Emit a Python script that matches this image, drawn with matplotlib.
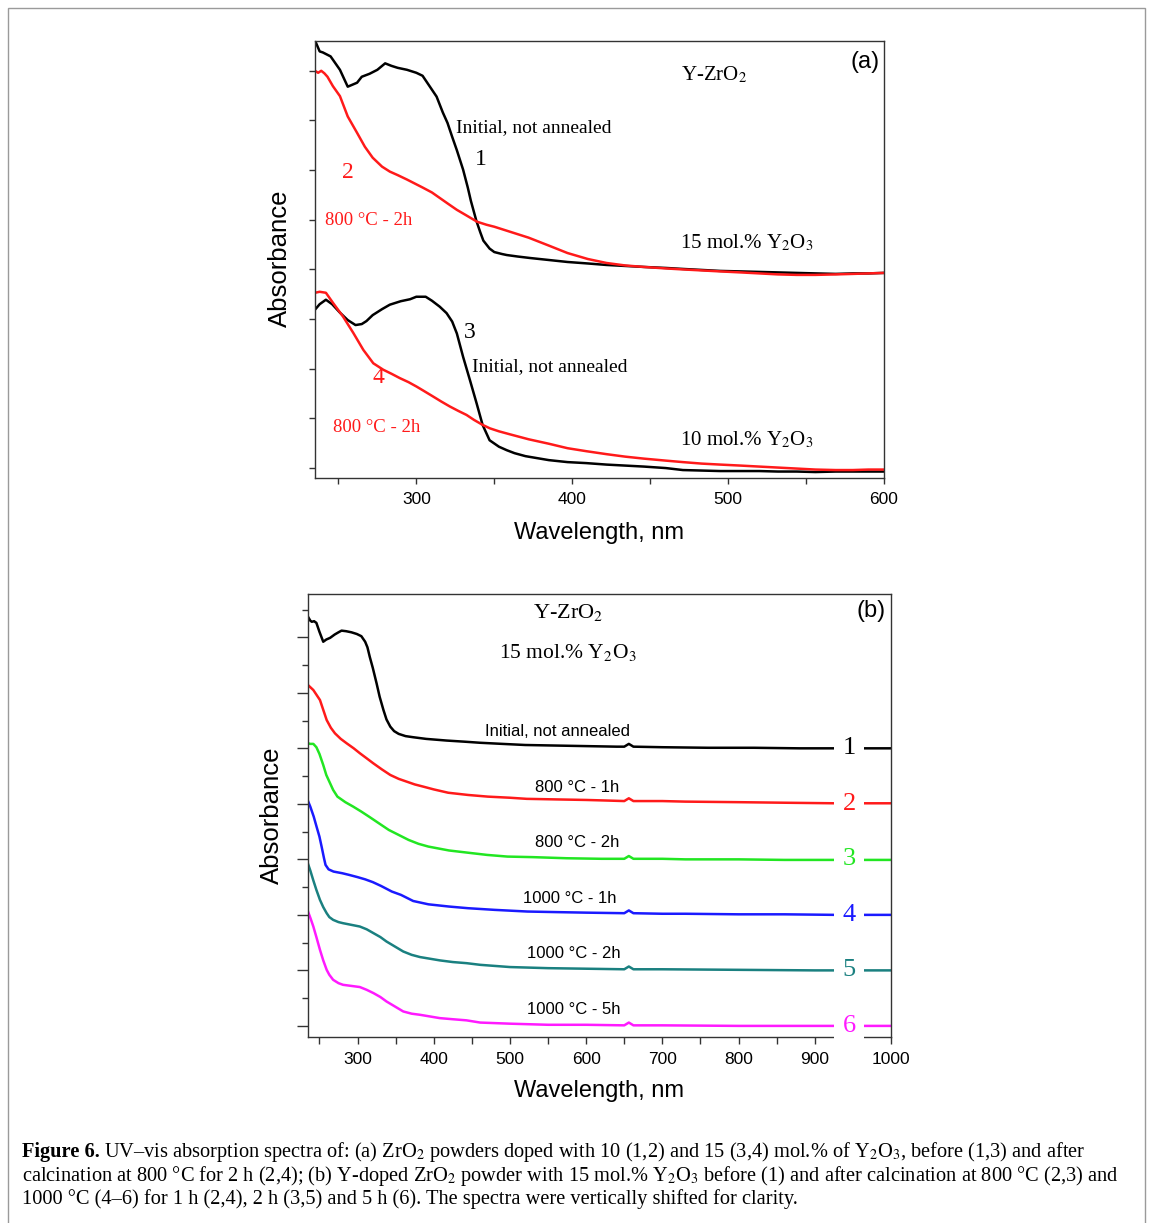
import matplotlib
matplotlib.use("Agg")
import matplotlib.pyplot as plt
from matplotlib.patches import Rectangle
from matplotlib.ticker import FixedLocator, NullFormatter

plt.rcParams['font.family'] = ['Liberation Sans', 'DejaVu Sans']
plt.rcParams['mathtext.fontset'] = 'stix'

# ---------------- Panel (a) data ----------------
wl_a1 = [235, 238, 240, 245, 251, 256, 259, 262, 265, 270, 275, 280, 284, 288, 294, 300, 304, 307, 310, 313,
         317, 320, 323, 326, 330, 333, 335, 338.5, 341, 343, 347, 350, 355, 358, 365, 373, 385, 397, 410, 422,
         434, 446, 460, 471, 483, 495, 508, 520, 532, 544, 556, 569, 580, 590, 600]
abs_a1 = [8.61, 8.39, 8.37, 8.29, 8.02, 7.68, 7.72, 7.76, 7.88, 7.94, 8.02, 8.15, 8.10, 8.06, 8.02, 7.96, 7.90, 7.76, 7.62, 7.48,
          7.16, 6.95, 6.67, 6.40, 6.01, 5.65, 5.38, 4.98, 4.75, 4.58, 4.42, 4.35, 4.31, 4.29, 4.26, 4.23, 4.19, 4.15, 4.12, 4.09,
          4.07, 4.05, 4.03, 4.01, 3.99, 3.97, 3.96, 3.95, 3.94, 3.93, 3.92, 3.91, 3.92, 3.92, 3.93]

wl_a2 = [235, 237, 239, 241, 243, 246.5, 251, 256, 262, 267, 272, 278, 283, 288, 294, 299, 304, 310, 315, 320,
         326, 332, 339, 345, 350, 360, 372, 385, 397, 410, 422, 434, 446, 460, 471, 483, 495, 508, 520, 532,
         544, 556, 569, 580, 590, 600]
abs_a2 = [8.0, 7.96, 8.0, 7.95, 7.88, 7.69, 7.49, 7.08, 6.75, 6.47, 6.25, 6.07, 5.97, 5.90, 5.81, 5.73, 5.65, 5.55, 5.44, 5.33,
          5.20, 5.09, 4.96, 4.90, 4.86, 4.76, 4.64, 4.48, 4.33, 4.21, 4.13, 4.08, 4.05, 4.02, 4.0, 3.98, 3.96, 3.94, 3.92, 3.90,
          3.89, 3.89, 3.90, 3.91, 3.92, 3.93]

wl_a3 = [235, 238, 242, 246, 251, 256, 261, 265, 268, 272, 278, 283, 290, 296, 300, 306, 310, 315, 319.4, 323,
         326, 330, 334.4, 338.7, 342.5, 347, 353, 358, 363, 370, 385, 397, 409, 422, 434, 446, 460, 471, 483, 495,
         508, 520, 532, 544, 556, 569, 580, 590, 600]
abs_a3 = [3.19, 3.30, 3.39, 3.30, 3.13, 2.98, 2.88, 2.90, 2.96, 3.08, 3.20, 3.29, 3.36, 3.40, 3.45, 3.45, 3.37, 3.25, 3.12, 2.95,
          2.71, 2.24, 1.77, 1.30, 0.87, 0.56, 0.43, 0.36, 0.30, 0.24, 0.16, 0.12, 0.10, 0.07, 0.05, 0.03, 0.0, -0.04, -0.05, -0.06,
          -0.06, -0.06, -0.07, -0.07, -0.08, -0.07, -0.07, -0.07, -0.07]

wl_a4 = [235, 238, 242, 246.7, 253, 259.6, 266, 272.4, 278.8, 284, 289.5, 295, 300.2, 305, 310.8, 316, 321.5, 327, 332.2, 337,
         342.5, 347.2, 353, 360, 372, 385, 397, 409, 422, 434, 446, 460, 471, 483, 495, 508, 520, 532, 544, 556,
         569, 580, 590, 600]
abs_a4 = [3.53, 3.55, 3.53, 3.32, 3.05, 2.72, 2.38, 2.11, 1.98, 1.90, 1.81, 1.73, 1.64, 1.55, 1.44, 1.34, 1.24, 1.15, 1.07, 0.97,
          0.87, 0.80, 0.74, 0.68, 0.58, 0.49, 0.40, 0.34, 0.28, 0.23, 0.19, 0.15, 0.12, 0.09, 0.07, 0.05, 0.03, 0.01, -0.01, -0.03,
          -0.04, -0.04, -0.03, -0.03]

# ---------------- Panel (b) data ----------------
wl_b1 = [235, 238, 240, 243, 246, 250, 255, 259, 264, 270, 275, 279, 285, 292, 299, 305, 310, 313, 316, 320,
         325, 329, 334, 338, 343, 348, 354, 363, 373, 390, 417, 440, 461, 490, 520, 560, 600, 640, 650, 656,
         662, 700, 760, 820, 880, 940, 1000]
abs_b1 = [7.37, 7.30, 7.28, 7.29, 7.26, 7.10, 6.92, 6.96, 6.99, 7.05, 7.09, 7.12, 7.11, 7.09, 7.06, 7.02, 6.92, 6.82, 6.65, 6.45,
          6.17, 5.93, 5.69, 5.52, 5.39, 5.31, 5.26, 5.22, 5.20, 5.17, 5.14, 5.12, 5.10, 5.08, 5.06, 5.05, 5.04, 5.03, 5.03, 5.08,
          5.03, 5.02, 5.01, 5.01, 5.00, 5.00, 5.00]

wl_b2 = [235, 242, 250.7, 259.5, 265, 270.4, 278, 285.8, 295, 303.2, 312, 320.7, 332, 343, 354, 364.5, 375, 386.3, 400, 419,
         445, 471, 500, 522, 560, 600, 626, 650, 656, 662, 700, 730, 800, 860, 926, 1000]
abs_b2 = [6.14, 6.05, 5.87, 5.51, 5.37, 5.27, 5.17, 5.09, 5.00, 4.91, 4.82, 4.73, 4.62, 4.52, 4.45, 4.40, 4.35, 4.31, 4.26, 4.20,
          4.16, 4.13, 4.11, 4.09, 4.08, 4.07, 4.06, 4.05, 4.10, 4.05, 4.05, 4.04, 4.03, 4.02, 4.01, 4.01]

wl_b3 = [235, 238, 242, 246, 250, 255, 259, 264, 268, 273.6, 284, 294.3, 305, 315, 328, 341, 354, 367, 380, 393,
         420, 444.8, 470, 496.7, 530, 574.5, 620, 650, 656, 662, 700, 730, 800, 860, 927, 1000]
abs_b3 = [5.09, 5.08, 5.08, 5.02, 4.90, 4.70, 4.52, 4.37, 4.25, 4.13, 4.03, 3.95, 3.86, 3.77, 3.65, 3.53, 3.44, 3.35, 3.28, 3.23,
          3.16, 3.12, 3.08, 3.05, 3.04, 3.02, 3.01, 3.01, 3.06, 3.01, 3.01, 3.00, 3.00, 2.99, 2.99, 2.99]

wl_b4 = [235, 238, 242.5, 246, 250, 253, 256, 258, 262, 268.5, 280, 289, 300, 310, 320, 331, 345, 357, 373, 393,
         420, 445, 480, 523, 560, 600, 650, 656, 662, 700, 730, 800, 860, 927, 1000]
abs_b4 = [4.05, 3.95, 3.77, 3.60, 3.41, 3.22, 3.02, 2.90, 2.82, 2.78, 2.75, 2.72, 2.68, 2.64, 2.59, 2.52, 2.42, 2.36, 2.25, 2.19,
          2.15, 2.12, 2.09, 2.06, 2.05, 2.04, 2.03, 2.08, 2.03, 2.02, 2.02, 2.01, 2.01, 2.00, 2.00]

wl_b5 = [235, 238, 242, 246, 250.7, 255, 259.5, 263, 268, 275, 281, 292, 303, 312, 321, 330, 338, 349, 360, 371,
         382, 395, 408, 425, 443, 461, 500, 550, 600, 650, 656, 662, 700, 800, 900, 1000]
abs_b5 = [2.92, 2.80, 2.62, 2.45, 2.27, 2.14, 2.03, 1.96, 1.91, 1.87, 1.85, 1.82, 1.79, 1.74, 1.67, 1.60, 1.52, 1.43, 1.34, 1.28,
          1.24, 1.21, 1.18, 1.15, 1.13, 1.10, 1.06, 1.04, 1.03, 1.02, 1.07, 1.02, 1.02, 1.01, 1.00, 1.00]

wl_b6 = [235, 238, 242, 246, 250.7, 255, 259.5, 263, 268, 275, 281, 292, 303, 312, 321, 330, 338, 349, 360, 371,
         382, 395, 408, 425, 443, 461, 500, 550, 600, 650, 656, 662, 700, 800, 900, 1000]
abs_b6 = [2.06, 1.95, 1.79, 1.60, 1.37, 1.18, 1.01, 0.92, 0.83, 0.77, 0.74, 0.72, 0.70, 0.65, 0.59, 0.52, 0.44, 0.35, 0.26, 0.22,
          0.20, 0.17, 0.14, 0.12, 0.10, 0.06, 0.04, 0.02, 0.02, 0.01, 0.06, 0.01, 0.01, 0.0, 0.0, 0.0]

b_labels = ["Initial, not annealed", "800 °C - 1h", "800 °C - 2h", "1000 °C - 1h", "1000 °C - 2h", "1000 °C - 5h"]
b_numbers = ["1", "2", "3", "4", "5", "6"]
b_colors = ["black", "#ff1a1a", "#22e622", "#1a1aff", "#1a8080", "#ff1aff"]
b_baselines = [5, 4, 3, 2, 1, 0]

xticks_a = [300, 400, 500, 600]
xminor_a = [250, 350, 450, 550]
xticks_b = [300, 400, 500, 600, 700, 800, 900, 1000]
xminor_b = [250, 350, 450, 550, 650, 750, 850, 950]

W, H = 1153, 1223
fig = plt.figure(figsize=(W / 100, H / 100), dpi=100)

SERIF = ['Liberation Serif', 'DejaVu Serif']
SPINE = '#333333'
LW = 1.8


def style_axes(ax, xt, xm, xlim, ylim, ymaj, ymin, ymaj_len, ymin_len, xlen):
    ax.set_xlim(*xlim)
    ax.set_ylim(*ylim)
    ax.xaxis.set_major_locator(FixedLocator(xt))
    ax.xaxis.set_minor_locator(FixedLocator(xm))
    ax.yaxis.set_major_locator(FixedLocator(ymaj))
    ax.yaxis.set_minor_locator(FixedLocator(ymin))
    ax.yaxis.set_major_formatter(NullFormatter())
    ax.tick_params(axis='x', which='both', direction='out', length=xlen, width=1.0, color=SPINE,
                   labelsize=12.5, pad=6, top=False)
    ax.tick_params(axis='y', which='major', direction='out', length=ymaj_len, width=1.0, color=SPINE, right=False)
    ax.tick_params(axis='y', which='minor', direction='out', length=ymin_len, width=1.0, color=SPINE, right=False)
    for s in ax.spines.values():
        s.set_color(SPINE)
        s.set_linewidth(1.0)


# ---------------- Panel (a) ----------------
axa = fig.add_axes([315 / W, 1 - 478 / H, (884 - 315) / W, (478 - 41) / H])
axa.plot(wl_a1, abs_a1, color='black', lw=LW)
axa.plot(wl_a2, abs_a2, color='#ff1a1a', lw=LW)
axa.plot(wl_a3, abs_a3, color='black', lw=LW)
axa.plot(wl_a4, abs_a4, color='#ff1a1a', lw=LW)
style_axes(axa, xticks_a, xminor_a, (235, 600), (-0.2, 8.6), list(range(0, 9)), [], 4, 0, 4)
axa.set_xlabel("Wavelength, nm", fontsize=17)
axa.xaxis.set_label_coords(0.5, -0.10)
axa.set_ylabel("Absorbance", fontsize=18.5)
axa.yaxis.set_label_coords(-0.040, 0.503)

axa.text(0.992, 0.952, "(a)", transform=axa.transAxes, ha='right', va='center', fontsize=17)
axa.text(491, 7.92, "Y-ZrO$_2$", family=SERIF, fontsize=15, ha='center', va='center')
axa.text(325.4, 6.85, "Initial, not annealed", family=SERIF, fontsize=14, ha='left', va='center')
axa.text(341.4, 6.21, "1", family=SERIF, fontsize=17, ha='center', va='center')
axa.text(256, 5.95, "2", family=SERIF, fontsize=17, ha='center', va='center', color='#ff1a1a')
axa.text(241.4, 4.98, "800 °C - 2h", family=SERIF, fontsize=13.5, ha='left', va='center', color='#ff1a1a')
axa.text(469, 4.54, "15 mol.% Y$_2$O$_3$", family=SERIF, fontsize=15, ha='left', va='center')
axa.text(334.4, 2.74, "3", family=SERIF, fontsize=17, ha='center', va='center')
axa.text(335.6, 2.04, "Initial, not annealed", family=SERIF, fontsize=14, ha='left', va='center')
axa.text(275.4, 1.83, "4", family=SERIF, fontsize=17, ha='center', va='center', color='#ff1a1a')
axa.text(246.5, 0.81, "800 °C - 2h", family=SERIF, fontsize=13.5, ha='left', va='center', color='#ff1a1a')
axa.text(469, 0.56, "10 mol.% Y$_2$O$_3$", family=SERIF, fontsize=15, ha='left', va='center')

# ---------------- Panel (b) ----------------
axb = fig.add_axes([308 / W, 1 - 1037 / H, (891 - 308) / W, (1037 - 594) / H])
series_b = [(wl_b1, abs_b1), (wl_b2, abs_b2), (wl_b3, abs_b3), (wl_b4, abs_b4), (wl_b5, abs_b5), (wl_b6, abs_b6)]
for (wl, ab), col in zip(series_b, b_colors):
    axb.plot(wl, ab, color=col, lw=LW)
style_axes(axb, xticks_b, xminor_b, (235, 1000), (-0.2, 7.78), list(range(0, 8)),
           [i + 0.5 for i in range(0, 8)], 8, 4.5, 5)
axb.set_xlabel("Wavelength, nm", fontsize=17)
axb.xaxis.set_label_coords(0.5, -0.097)
axb.set_ylabel("Absorbance", fontsize=18.5)
axb.yaxis.set_label_coords(-0.041, 0.501)

axb.text(0.991, 0.962, "(b)", transform=axb.transAxes, ha='right', va='center', fontsize=17)
axb.text(576, 7.45, "Y-ZrO$_2$", family=SERIF, fontsize=16, ha='center', va='center')
axb.text(576, 6.72, "15 mol.% Y$_2$O$_3$", family=SERIF, fontsize=15.5, ha='center', va='center')
label_x = [562, 588, 588, 579, 584, 584]
for lab, lx, base, num, col in zip(b_labels, label_x, b_baselines, b_numbers, b_colors):
    axb.text(lx, base + 0.30, lab, fontsize=12, ha='center', va='center')
    axb.text(945, base, num, family=SERIF, fontsize=19, ha='center', va='center', color=col,
             bbox=dict(fc='white', ec='none', pad=6), zorder=6, clip_on=False)

# ---------------- Caption ----------------
cap_fs = 14.7
y1, y2, y3 = 1 - 1152 / H, 1 - 1176 / H, 1 - 1199 / H
x0 = 22 / W
t_bold = fig.text(x0, y1, "Figure 6.", family=SERIF, fontsize=cap_fs, fontweight='bold', va='center', ha='left')
fig.canvas.draw()
r = fig.canvas.get_renderer()
bb = t_bold.get_window_extent(renderer=r)
x1 = (bb.x1 + 4) / W
fig.text(x1, y1, "UV–vis absorption spectra of: (a) ZrO$_2$ powders doped with 10 (1,2) and 15 (3,4) mol.% of Y$_2$O$_3$, before (1,3) and after",
         family=SERIF, fontsize=cap_fs, va='center', ha='left')
fig.text(x0, y2, "calcination at 800 °C for 2 h (2,4); (b) Y-doped ZrO$_2$ powder with 15 mol.% Y$_2$O$_3$ before (1) and after calcination at 800 °C (2,3) and",
         family=SERIF, fontsize=cap_fs, va='center', ha='left')
fig.text(x0, y3, "1000 °C (4–6) for 1 h (2,4), 2 h (3,5) and 5 h (6). The spectra were vertically shifted for clarity.",
         family=SERIF, fontsize=cap_fs, va='center', ha='left')

# figure border
fig.patches.append(Rectangle((8 / W, -0.02), (1145 - 8) / W, 1 - 8 / H + 0.02, transform=fig.transFigure,
                             fill=False, edgecolor='#9a9a9a', lw=1.0))

fig.savefig("out.png", dpi=100)
